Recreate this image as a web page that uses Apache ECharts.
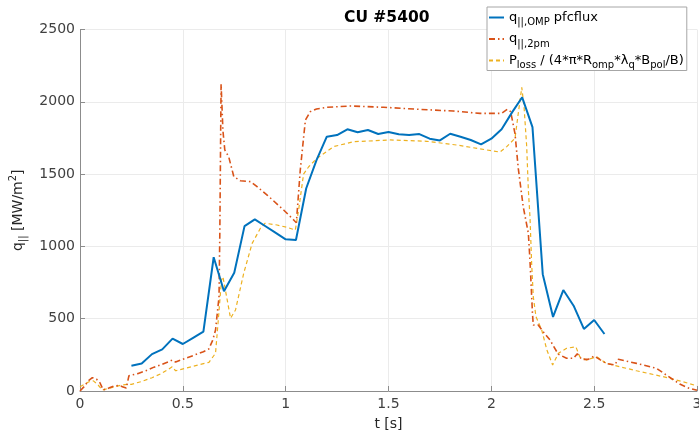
<!DOCTYPE html>
<html>
<head>
<meta charset="utf-8">
<script src="https://cdn.jsdelivr.net/npm/echarts@6/dist/echarts.min.js"></script>
<style>
html,body{margin:0;padding:0;background:#fff;}
#chart{width:699px;height:432px;}
</style>
</head>
<body>
<div id="chart"></div>
<script>
// q_||,OMP from pfcflux
var tPfc = [0.25,0.30,0.35,0.40,0.45,0.50,0.55,0.60,0.65,0.70,0.75,0.80,0.85,0.90,0.95,1.00,1.05,1.10,1.15,1.20,1.25,1.30,1.35,1.40,1.45,1.50,1.55,1.60,1.65,1.70,1.75,1.80,1.85,1.90,1.95,2.00,2.05,2.10,2.15,2.20,2.25,2.30,2.35,2.40,2.45,2.50,2.55];
var qPfc = [175,190,255,288,362,325,368,410,925,690,818,1140,1187,1141,1095,1049,1044,1402,1597,1759,1770,1810,1789,1805,1777,1791,1775,1770,1777,1745,1733,1779,1758,1736,1706,1745,1810,1925,2031,1825,808,512,698,590,429,491,394];

// q_||,2pm
var t2pm = [0,0.02,0.04,0.06,0.08,0.097,0.113,0.14,0.165,0.19,0.206,0.225,0.238,0.28,0.32,0.36,0.40,0.435,0.448,0.465,0.50,0.55,0.60,0.626,0.645,0.659,0.676,0.68,0.686,0.695,0.704,0.723,0.748,0.78,0.829,0.861,0.91,0.99,1.039,1.052,1.071,1.096,1.12,1.15,1.2,1.314,1.476,1.65,1.815,1.945,2.05,2.078,2.094,2.115,2.131,2.155,2.18,2.188,2.2,2.204,2.228,2.252,2.285,2.325,2.366,2.40,2.418,2.439,2.471,2.50,2.53,2.56,2.60,2.617,2.706,2.803,2.85,2.916,2.96,3.0];
var q2pm = [0,30,70,92,82,57,7,20,35,38,30,20,106,120,140,165,185,205,214,200,220,245,272,290,350,422,652,1113,2123,1800,1667,1620,1482,1454,1448,1413,1355,1252,1183,1164,1528,1874,1932,1950,1962,1971,1962,1948,1936,1920,1920,1948,1932,1780,1540,1275,1091,900,537,456,456,410,353,255,226,226,258,219,219,242,215,190,180,219,191,157,111,48,20,5];

// P_loss / (4*pi*R_omp*lambda_q*B_pol/B)
var tLoss = [0,0.02,0.044,0.065,0.084,0.109,0.14,0.17,0.2,0.23,0.25,0.30,0.35,0.392,0.43,0.448,0.465,0.52,0.58,0.627,0.659,0.675,0.688,0.695,0.707,0.732,0.756,0.796,0.837,0.877,0.9,0.958,1.006,1.047,1.063,1.087,1.112,1.152,1.233,1.33,1.508,1.686,1.832,1.978,2.042,2.075,2.115,2.131,2.148,2.159,2.172,2.18,2.188,2.196,2.204,2.217,2.245,2.27,2.298,2.326,2.366,2.411,2.43,2.463,2.512,2.56,2.624,2.706,2.835,2.932,3.0];
var qLoss = [30,45,64,70,48,7,18,30,40,46,46,66,92,118,150,168,140,160,182,198,261,537,768,790,698,503,560,814,1021,1125,1160,1148,1132,1113,1252,1500,1551,1609,1690,1724,1736,1727,1701,1667,1652,1690,1748,1920,2100,1966,1690,1390,1200,883,652,514,422,284,180,261,295,306,237,214,237,191,168,140,99,64,35];

var xTicks = [0,0.5,1,1.5,2,2.5,3];
var yTicks = [0,500,1000,1500,2000,2500];

function pairs(t, q){
    var out = [];
    for (var i = 0; i < t.length; i++) out.push([t[i], q[i]]);
    return out;
}

var legendText = {
    'pfc': '{m|q}{s|||,OMP}{m| pfcflux}',
    '2pm': '{m|q}{s|||,2pm}',
    'loss': '{m|P}{s|loss}{m| / (4*π*R}{s|omp}{m|*λ}{s|q}{m|*B}{s|pol}{m|/B)}'
};

var chart = echarts.init(document.getElementById('chart'));
var option = {
    animation: false,
    backgroundColor: '#fff',
    textStyle: {fontFamily: 'DejaVu Sans'},
    title: {
        text: 'CU #5400',
        left: 344,
        top: 10,
        padding: 0,
        textStyle: {fontSize: 15.5, fontWeight: 'bold', color: '#000', fontFamily: 'DejaVu Sans'}
    },
    grid: {left: 80, right: 2, top: 29.5, bottom: 41, outerBoundsMode: 'none'},
    legend: {
        orient: 'vertical',
        left: 487,
        top: 7,
        padding: [4, 3, 0, 1],
        itemGap: 5,
        itemWidth: 15,
        itemHeight: 14,
        backgroundColor: '#fff',
        borderColor: '#a6a6a6',
        borderWidth: 1,
        borderRadius: 0,
        // hide the marker, keep the line sample
        itemStyle: {opacity: 0},
        data: ['pfc', '2pm', 'loss'],
        formatter: function(name){ return legendText[name]; },
        textStyle: {
            color: '#000',
            rich: {
                m: {fontSize: 13, lineHeight: 20, fontFamily: 'DejaVu Sans', color: '#000'},
                s: {fontSize: 10, lineHeight: 8, verticalAlign: 'bottom', fontFamily: 'DejaVu Sans', color: '#000'}
            }
        }
    },
    xAxis: {
        type: 'value',
        min: 0, max: 3, interval: 0.5,
        name: 't [s]',
        nameLocation: 'middle',
        nameGap: 26,
        nameTextStyle: {fontSize: 14, color: '#262626'},
        axisLine: {show: true, lineStyle: {color: '#8c8c8c', width: 1}},
        axisTick: {show: true, inside: true, length: 5, lineStyle: {color: '#8c8c8c'}},
        axisLabel: {fontSize: 14, color: '#404040', margin: 6,
            formatter: function(v){ return xTicks.indexOf(v) >= 0 ? String(v) : ''; }},
        splitLine: {show: true, lineStyle: {color: '#ebebeb', width: 1}}
    },
    yAxis: {
        type: 'value',
        min: 0, max: 2500, interval: 500,
        name: '{m|q}{s|||}{m| [MW/m}{p|2}{m|]}',
        nameLocation: 'middle',
        nameGap: 42,
        nameRotate: 90,
        nameTextStyle: {
            rich: {
                m: {fontSize: 14, lineHeight: 20, color: '#262626', fontFamily: 'DejaVu Sans'},
                s: {fontSize: 10, lineHeight: 9, verticalAlign: 'bottom', color: '#262626', fontFamily: 'DejaVu Sans'},
                p: {fontSize: 10, lineHeight: 9, verticalAlign: 'top', color: '#262626', fontFamily: 'DejaVu Sans'}
            }
        },
        axisLine: {show: true, lineStyle: {color: '#8c8c8c', width: 1}},
        axisTick: {show: true, inside: true, length: 5, lineStyle: {color: '#8c8c8c'}},
        axisLabel: {fontSize: 14, color: '#404040', margin: 5,
            formatter: function(v){ return yTicks.indexOf(v) >= 0 ? String(v) : ''; }},
        splitLine: {show: true, lineStyle: {color: '#ebebeb', width: 1}}
    },
    series: [
        {
            name: 'pfc',
            type: 'line',
            data: pairs(tPfc, qPfc),
            symbol: 'none',
            color: '#0072BD',
            lineStyle: {color: '#0072BD', width: 2},
            z: 3
        },
        {
            name: '2pm',
            type: 'line',
            data: pairs(t2pm, q2pm),
            symbol: 'none',
            color: '#D95319',
            lineStyle: {color: '#D95319', width: 1.6, type: [6, 3, 1.5, 3]},
            z: 2
        },
        {
            name: 'loss',
            type: 'line',
            data: pairs(tLoss, qLoss),
            symbol: 'none',
            color: '#EDB120',
            lineStyle: {color: '#EDB120', width: 1.2, type: [4, 3]},
            z: 1
        }
    ]
};
chart.setOption(option);
</script>
</body>
</html>
